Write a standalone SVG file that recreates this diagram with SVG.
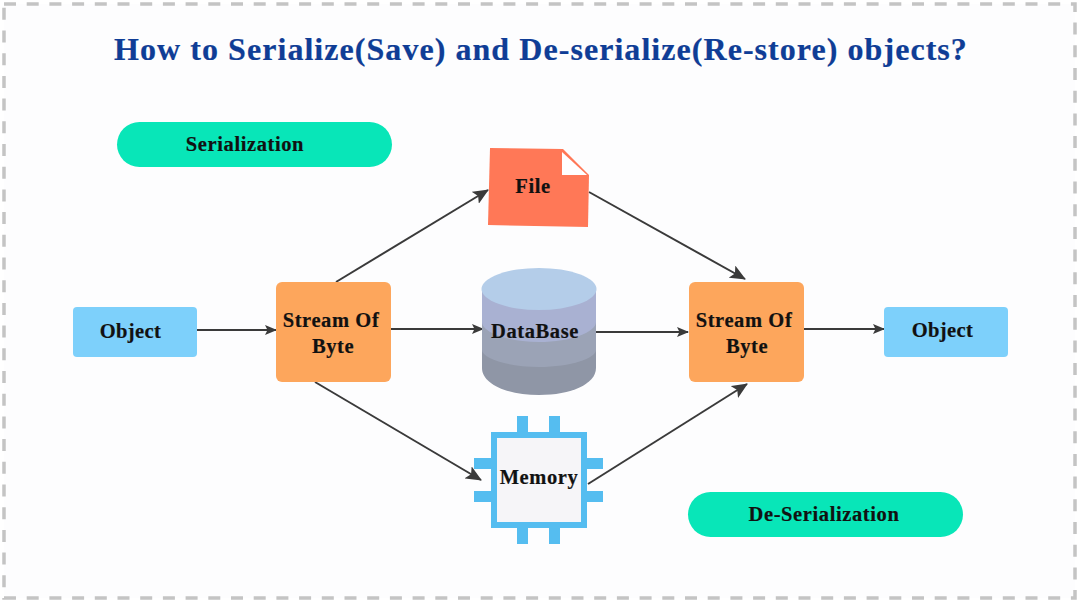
<svg xmlns="http://www.w3.org/2000/svg" width="1080" height="600" viewBox="0 0 1080 600">
<style>
text{font-family:"Liberation Serif",serif;font-weight:bold;fill:#111;text-anchor:middle;font-size:20.500px;letter-spacing:.6px;stroke:#111;stroke-width:.2px}
.title{font-size:32px;fill:#0f3d96;stroke:#0f3d96;letter-spacing:1.050px}
.obj{letter-spacing:.4px}
.pill{fill:#08e6b8}
.blue{fill:#7dd0fb}
.orange{fill:#fda65c}
.chip{fill:#55bdf0}
.c{fill:none;stroke:#3a3a3a;stroke-width:2}
.s{marker-end:url(#a)}
.l{marker-end:url(#b)}
</style>
<defs>
<marker id="a" viewBox="0 0 12 10" refX="11" refY="5" markerWidth="12" markerHeight="10" markerUnits="userSpaceOnUse" orient="auto"><path d="M0 0L12 5L0 10L2.500 5Z" fill="#3a3a3a"/></marker>
<marker id="b" viewBox="0 0 16 14" refX="15" refY="7" markerWidth="16" markerHeight="14" markerUnits="userSpaceOnUse" orient="auto"><path d="M0 0L16 7L0 14L3.500 7Z" fill="#3a3a3a"/></marker>
</defs>
<rect width="1080" height="600" fill="#fff"/>
<rect x="4" y="4" width="1071" height="594" fill="#fdfdfe" stroke="#c4c4c4" stroke-width="3.500" stroke-dasharray="12 10.700"/>
<text class="title" x="541" y="60">How to Serialize(Save) and De-serialize(Re-store) objects?</text>
<g id="pill-serialization"><rect class="pill" x="117" y="122" width="275" height="45" rx="22.500"/><text x="245" y="151">Serialization</text></g>
<g id="pill-deserialization"><rect class="pill" x="688" y="492" width="275" height="45" rx="22.500"/><text x="824" y="521">De-Serialization</text></g>
<g id="connectors">
<path class="c s" d="M197 330H276"/>
<path class="c l" d="M336 282L488 190"/>
<path class="c s" d="M391 329H483"/>
<path class="c l" d="M315 382L481 480"/>
<path class="c l" d="M589 192L745 279"/>
<path class="c s" d="M596 332H688"/>
<path class="c l" d="M588 484L747 384"/>
<path class="c s" d="M803 329H884"/>
</g>
<g id="object-left"><rect class="blue" x="73" y="307" width="124" height="50" rx="4"/><text class="obj" x="130.500" y="338">Object</text></g>
<g id="stream-left"><rect class="orange" x="276" y="282" width="115" height="100" rx="6"/><text x="331" y="327">Stream Of</text><text x="333" y="353">Byte</text></g>
<g id="file"><path d="M490 148L563 149L589 175L588 227L488 225Z" fill="#ff7857"/><path d="M562 152L587 175H562Z" fill="#fff"/><text x="533" y="193">File</text></g>
<g id="database">
<path d="M482 289V368C482 384 507 395 539 395S596 384 596 368V289Z" fill="#8f96a6"/>
<path d="M482 289V350C482 358 507 367 539 367S596 358 596 350V289Z" fill="#9ba3b6"/>
<path d="M482 289V322C482 332 507 342 539 342S596 332 596 322V289Z" fill="#a9b1d2"/>
<ellipse cx="539" cy="289" rx="57.500" ry="21" fill="#b4cde9"/>
<text x="535" y="338">DataBase</text>
</g>
<g id="memory">
<rect class="chip" x="517" y="416" width="11" height="20"/><rect class="chip" x="549" y="416" width="11" height="20"/>
<rect class="chip" x="517" y="524" width="11" height="20"/><rect class="chip" x="549" y="524" width="11" height="20"/>
<rect class="chip" x="474" y="458" width="20" height="11"/><rect class="chip" x="474" y="491" width="20" height="11"/>
<rect class="chip" x="584" y="458" width="19" height="11"/><rect class="chip" x="584" y="491" width="19" height="11"/>
<rect x="494" y="435" width="90" height="90" fill="#f6f5f8" stroke="#55bdf0" stroke-width="6"/>
<text x="539" y="484">Memory</text>
</g>
<g id="stream-right"><rect class="orange" x="689" y="282" width="115" height="100" rx="6"/><text x="744" y="327">Stream Of</text><text x="747" y="353">Byte</text></g>
<g id="object-right"><rect class="blue" x="884" y="307" width="124" height="50" rx="4"/><text class="obj" x="942.500" y="337">Object</text></g>
</svg>
